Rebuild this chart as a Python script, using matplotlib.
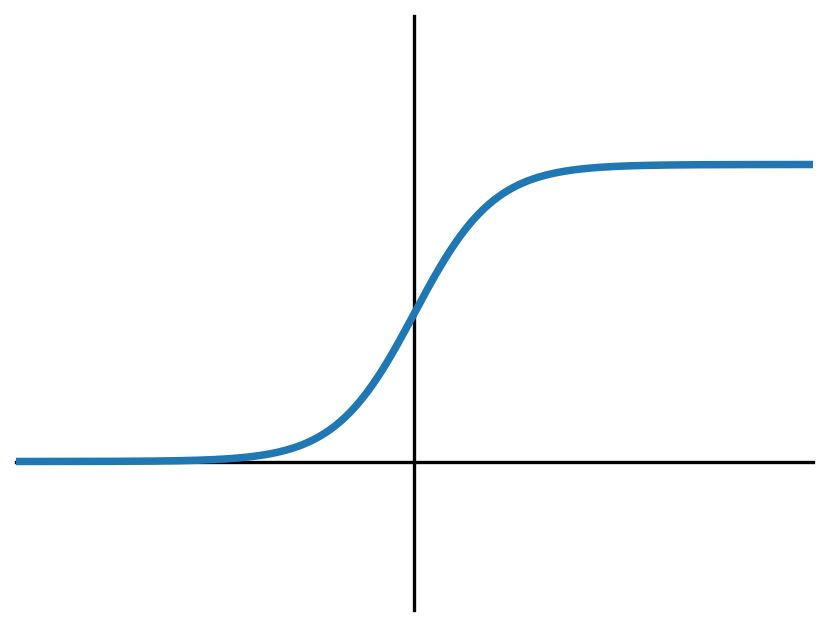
import numpy as np
import matplotlib
matplotlib.use("Agg")
import matplotlib.pyplot as plt

# Logistic (sigmoid) curve plotted over x in [-10, 10]
x_min, x_max = -10, 10
y_min, y_max = -0.5, 1.5
x = np.linspace(x_min, x_max, 500)
y = 1 / (1 + np.exp(-x))

fig = plt.figure(figsize=(8.29, 6.26), dpi=100)
ax = fig.add_axes([16/829, 16/626, (813-16)/829, (610-16)/626])
ax.plot(x, y, color="#1f77b4", lw=5.4, zorder=3)
ax.set_xlim(x_min, x_max)
ax.set_ylim(y_min, y_max)
ax.spines["left"].set_position(("data", 0))
ax.spines["bottom"].set_position(("data", 0))
ax.spines["right"].set_visible(False)
ax.spines["top"].set_visible(False)
for s in ("left", "bottom"):
    ax.spines[s].set_linewidth(2.4)
ax.set_xticks([])
ax.set_yticks([])
fig.savefig("out.png", dpi=100)
